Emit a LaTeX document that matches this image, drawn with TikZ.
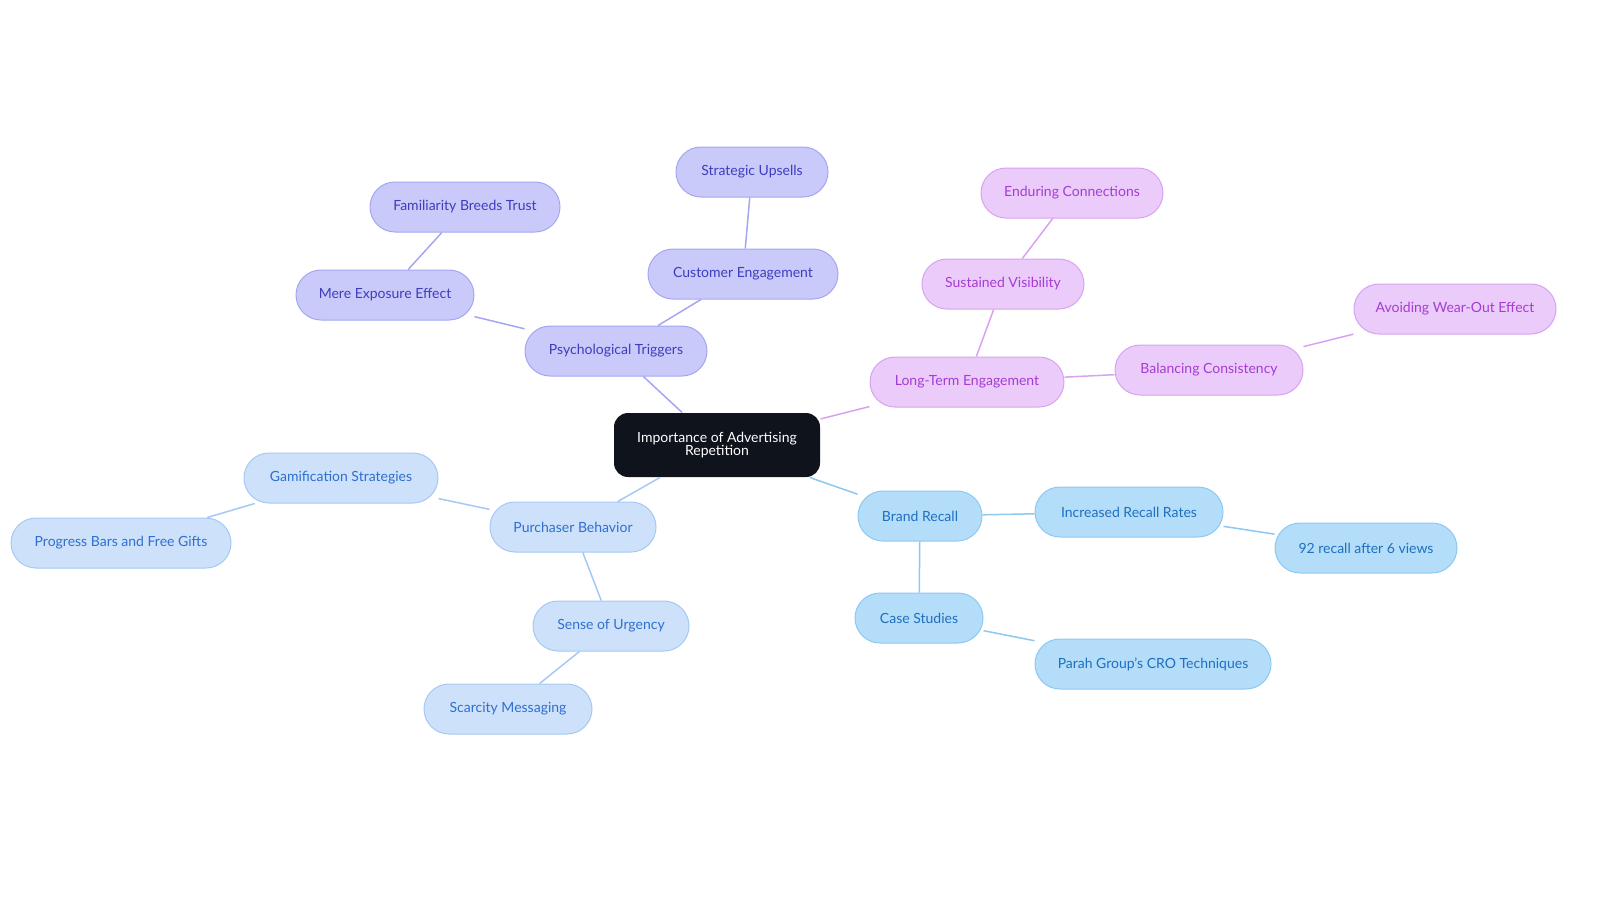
\documentclass[tikz,border=0pt]{standalone}
\usepackage{fontspec}
\setmainfont{Lato}
\usepackage{tikz}
\definecolor{pfill}{HTML}{C9CAF9}\definecolor{pline}{HTML}{A5A6F0}\definecolor{ptext}{HTML}{3D3DBF}
\definecolor{mfill}{HTML}{EBCBFA}\definecolor{mline}{HTML}{D7A3F0}\definecolor{mtext}{HTML}{A53CD3}
\definecolor{lfill}{HTML}{CDE1FA}\definecolor{lline}{HTML}{A6C8F4}\definecolor{ltext}{HTML}{2F6FD0}
\definecolor{bfill}{HTML}{B4DDF9}\definecolor{bline}{HTML}{8CC8F2}\definecolor{btext}{HTML}{1F6FBF}
\definecolor{dark}{HTML}{0F141C}
\begin{document}
\begin{tikzpicture}[x=1pt,y=-1pt,
  every node/.style={rounded corners=25pt,minimum height=50pt,inner sep=0pt,font=\fontsize{14}{15}\selectfont,line width=1pt},
  ptri/.style={draw=pline,fill=pfill,text=ptext},
  ltrm/.style={draw=mline,fill=mfill,text=mtext},
  purc/.style={draw=lline,fill=lfill,text=ltext},
  bran/.style={draw=bline,fill=bfill,text=btext},
  every path/.style={line width=1.5pt}]
  \useasboundingbox (0,0) rectangle (1600,903);
  \node[fill=dark,text=white,rounded corners=14pt,minimum width=206pt,minimum height=64pt,align=center] (C) at (717,445) {Importance of Advertising\\[-2pt]Repetition};

  \node[ptri,minimum width=182pt] (PT) at (616,351) {Psychological Triggers};
  \node[ptri,minimum width=190pt] (CE) at (743,274) {Customer Engagement};
  \node[ptri,minimum width=152pt] (SU) at (752,172) {Strategic Upsells};
  \node[ptri,minimum width=178pt] (ME) at (385,295) {Mere Exposure Effect};
  \node[ptri,minimum width=190pt] (FB) at (465,207) {Familiarity Breeds Trust};

  \node[ltrm,minimum width=194pt] (LT) at (967,382) {Long-Term Engagement};
  \node[ltrm,minimum width=162pt] (SV) at (1003,284) {Sustained Visibility};
  \node[ltrm,minimum width=182pt] (EC) at (1072,193) {Enduring Connections};
  \node[ltrm,minimum width=188pt] (BC) at (1209,370) {Balancing Consistency};
  \node[ltrm,minimum width=202pt] (AW) at (1455,309) {Avoiding Wear-Out Effect};

  \node[bran,minimum width=124pt] (BR) at (920,516) {Brand Recall};
  \node[bran,minimum width=188pt] (IR) at (1129,512) {Increased Recall Rates};
  \node[bran,minimum width=182pt] (NR) at (1366,548) {92 recall after 6 views};
  \node[bran,minimum width=128pt] (CS) at (919,618) {Case Studies};
  \node[bran,minimum width=236pt] (PG) at (1153,664) {Parah Group's CRO Techniques};

  \node[purc,minimum width=166pt] (PB) at (573,527) {Purchaser Behavior};
  \node[purc,minimum width=194pt] (GS) at (341,478) {Gamification Strategies};
  \node[purc,minimum width=220pt] (PF) at (121,543) {Progress Bars and Free Gifts};
  \node[purc,minimum width=156pt] (SO) at (611,626) {Sense of Urgency};
  \node[purc,minimum width=168pt] (SM) at (508,709) {Scarcity Messaging};

  \begin{scope}[on background layer/.style={}]
  \draw[pline] (C) -- (PT) (PT) -- (CE) (CE) -- (SU) (PT) -- (ME) (ME) -- (FB);
  \draw[mline] (C) -- (LT) (LT) -- (SV) (SV) -- (EC) (LT) -- (BC) (BC) -- (AW);
  \draw[bline] (C) -- (BR) (BR) -- (IR) (IR) -- (NR) (BR) -- (CS) (CS) -- (PG);
  \draw[lline] (C) -- (PB) (PB) -- (GS) (GS) -- (PF) (PB) -- (SO) (SO) -- (SM);
  \end{scope}
\end{tikzpicture}
\end{document}
